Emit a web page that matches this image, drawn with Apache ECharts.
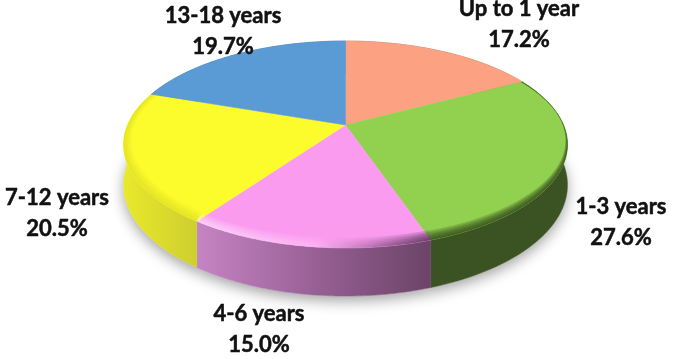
<!DOCTYPE html>
<html>
<head>
<meta charset="utf-8">
<style>html,body{margin:0;padding:0;background:#fff}#c{width:675px;height:359px}</style>
<script src="https://cdn.jsdelivr.net/npm/echarts@6/dist/echarts.min.js"></script>
</head>
<body>
<div id="c"></div>
<script>
var categories = ['Up to 1 year', '1-3 years', '4-6 years', '7-12 years', '13-18 years'];
var values = [17.2, 27.6, 15.0, 20.5, 19.7];

var topColors = ['#FCA283', '#92D050', '#FB9BF0', '#FCFC2C', '#5B9BD5'];
var labelSpots = [[519, 24], [621, 222], [259, 329], [57, 213], [223, 31]];

var CX = 345.5, CY = 125, R = 218;
var TILT = -0.1884, FORE = 99.8 / 218, DEPTH = 39;

function mk(stops, x1, x2) {
  return {type: 'linear', x: x1, y: 0, x2: x2, y2: 0, global: true, colorStops: stops};
}
var wallFills = [
  '#9a6a55',
  '#3B5323',
  mk([{offset: 0, color: '#C583C3'}, {offset: 0.6, color: '#8F5A8C'}, {offset: 1, color: '#6C4468'}], 199, 430),
  mk([{offset: 0, color: '#E9E92B'}, {offset: 1, color: '#CDCD30'}], 123, 200),
  '#3d6a93'
];
var rimFills = [
  null,
  'rgba(40,60,20,0.20)',
  mk([{offset: 0, color: 'rgba(255,255,255,0.11)'}, {offset: 0.5, color: 'rgba(255,220,250,0.07)'}, {offset: 0.75, color: 'rgba(90,50,90,0.08)'}, {offset: 1, color: 'rgba(70,40,70,0.22)'}], 199, 430),
  'rgba(190,190,30,0.06)',
  null
];
var rimInset = [0, 0.0015, 0.002, 0.006, 0];
var rimLift = [0, 1.0, 1.0, 0.7, 0];
var rimSteps = [1, 2, 3, 4, 5, 6];

var spans = [];
values.reduce(function (sum, v) { spans.push([sum, sum + v]); return sum + v; }, 0);

function project(p) {
  var ux = (p[0] - CX) / R, uy = (p[1] - CY) / R, w = 1 + TILT * uy;
  return {x: CX + ux * R / w, y: CY + FORE * R * uy / w, w: w, uy: uy};
}
function arc(api, r, a0, a1, drop, lift) {
  var pts = [], n = 70;
  for (var i = 0; i <= n; i++) {
    var q = project(api.coord([r, a0 + (a1 - a0) * i / n]));
    pts.push([q.x, q.y + (drop ? DEPTH / q.w : 0) - (lift || 0) * Math.max(0, q.uy + 0.45)]);
  }
  return pts;
}

function renderItem(params, api) {
  var i = params.dataIndex, a0 = api.value(0), a1 = api.value(1);
  var c = project(api.coord([0, a0]));
  var rimTop = arc(api, 1, a0, a1, false);
  var rimLow = arc(api, 1, a0, a1, true);
  var kids = [];
  kids.push({type: 'polygon', z2: 1, shape: {points: rimLow.concat([[c.x, c.y + DEPTH]])},
    style: {fill: '#ffffff', shadowBlur: 14, shadowColor: 'rgba(0,0,0,0.36)', shadowOffsetY: 5}});
  kids.push({type: 'polygon', z2: 2, shape: {points: rimTop.concat(rimLow.slice().reverse())},
    style: {fill: wallFills[i], stroke: wallFills[i], lineWidth: 0.5}});
  kids.push({type: 'polygon', z2: 3, shape: {points: rimTop.concat([[c.x, c.y]])},
    style: {fill: topColors[i], stroke: topColors[i], lineWidth: 0.5}});
  if (rimFills[i]) {
    rimSteps.forEach(function (s) {
      var inner = arc(api, 1 - s * rimInset[i], a0, a1, false, s * rimLift[i]);
      kids.push({type: 'polygon', z2: 4, shape: {points: rimTop.concat(inner.reverse())},
        style: {fill: rimFills[i]}});
    });
  }
  kids.push({type: 'text', z2: 10, x: labelSpots[i][0], y: labelSpots[i][1],
    style: {text: categories[i] + '\n' + values[i].toFixed(1) + '%', align: 'center', verticalAlign: 'middle',
      fontFamily: 'Lato', fontWeight: 'bold', fontSize: 22, lineHeight: 31, fill: '#111111',
      stroke: '#111111', lineWidth: 0.5}});
  return {type: 'group', children: kids};
}

var chart = echarts.init(document.getElementById('c'), null, {renderer: 'canvas'});
chart.setOption({
  animation: false,
  backgroundColor: '#ffffff',
  polar: {center: [CX, CY], radius: R},
  angleAxis: {type: 'value', min: 0, max: 100, startAngle: 90, show: false},
  radiusAxis: {type: 'value', min: 0, max: 1, show: false},
  series: [{
    type: 'custom',
    coordinateSystem: 'polar',
    clip: false,
    renderItem: renderItem,
    encode: {radius: 2, angle: 0},
    data: spans.map(function (s, i) { return {name: categories[i], value: [s[0], s[1], 1]}; })
  }]
});
</script>
</body>
</html>
